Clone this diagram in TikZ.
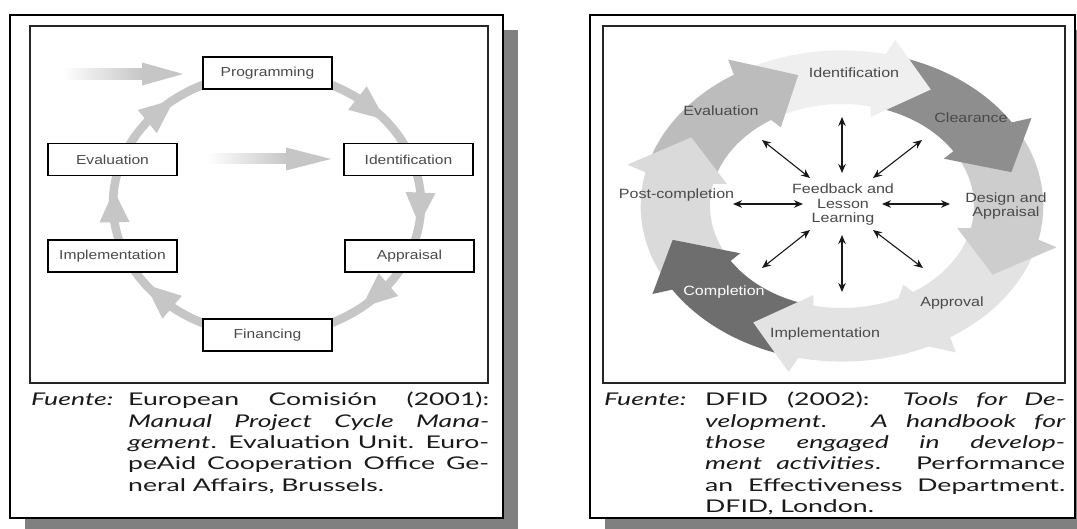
\documentclass[tikz,border=0pt]{standalone}
\usepackage{fontspec}
\usetikzlibrary{calc,arrows.meta}
\newfontfamily\labfont[FakeStretch=1.2]{Liberation Sans}
\newfontfamily\capfont[FakeStretch=1.52]{Lato}
\definecolor{shadowgray}{HTML}{808080}
\definecolor{ringgray}{HTML}{C6C6C6}
\definecolor{labelgray}{HTML}{4A4A4A}
\definecolor{capink}{HTML}{1A1A1A}
\definecolor{cIdent}{HTML}{EFEFEF}
\definecolor{cClear}{HTML}{8E8E8E}
\definecolor{cDesign}{HTML}{CDCDCD}
\definecolor{cApprov}{HTML}{E3E3E3}
\definecolor{cImpl}{HTML}{E3E3E3}
\definecolor{cCompl}{HTML}{6E6E6E}
\definecolor{cPost}{HTML}{DADADA}
\definecolor{cEval}{HTML}{BCBCBC}
\begin{document}
\begin{tikzpicture}[x=1pt,y=-1pt,
  outerframe/.style={draw=black,line width=2pt,fill=white},
  innerframe/.style={draw=black!85,line width=1.4pt},
  dropshadow/.style={fill=shadowgray},
  stagebox/.style={draw=black,line width=1.2pt,fill=white,minimum width=129pt,
    minimum height=32pt,inner sep=0pt,text=labelgray,
    font=\labfont\fontsize{13pt}{15pt}\selectfont},
  ringlink/.style={draw=ringgray,line width=8.5pt},
  ringlabel/.style={inner sep=0pt,text=labelgray,
    font=\labfont\fontsize{13.4pt}{14.5pt}\selectfont},
  twoway/.style={{Stealth[length=9pt,width=7.5pt]}-{Stealth[length=9pt,width=7.5pt]},
    line width=1.1pt,draw=black!90},
  capline/.style={anchor=base west,inner sep=0pt,text=capink,
    font=\capfont\fontsize{17.5pt}{21pt}\selectfont}
]
\useasboundingbox (0,0) rectangle (1077,529);

% ================= left panel: project cycle =================
\fill[dropshadow] (25,30) rectangle (518,533);
\draw[outerframe] (10,15) rectangle (503,518);
\draw[innerframe] (30,26) rectangle (488,383);

% points of the elliptical cycle under each stage box
\coordinate (L) at (267,204);
\foreach \n/\a in {Prog/270,Ident/340,Appr/23,Fin/90,Impl/157,Eval/200}
  \coordinate (r\n) at ($(L)+(\a:154 and 131)$);

\draw[ringlink] (rProg) arc[start angle=270,end angle=340,x radius=154,y radius=131];
\draw[ringlink] (rIdent) arc[start angle=340,end angle=383,x radius=154,y radius=131];
\draw[ringlink] (rAppr) arc[start angle=23,end angle=90,x radius=154,y radius=131];
\draw[ringlink] (rFin) arc[start angle=90,end angle=157,x radius=154,y radius=131];
\draw[ringlink] (rImpl) arc[start angle=157,end angle=200,x radius=154,y radius=131];
\draw[ringlink] (rEval) arc[start angle=200,end angle=270,x radius=154,y radius=131];

% arrow heads along the cycle (angle of the tip)
\foreach \i/\t in {1/320,2/369,3/52,4/142,5/186,6/233}{
  \pgfmathsetmacro\bb{\t-14}
  \coordinate (hT\i) at ($(L)+(\t:154 and 131)$);
  \coordinate (hB\i) at ($(L)+(\bb:154 and 131)$);
  \fill[ringgray] ($(hB\i)!15pt!90:(hT\i)$) -- (hT\i) -- ($(hB\i)!15pt!-90:(hT\i)$) -- cycle;
}

\node[stagebox] (prog)  at (267.5,73)  {Programming};
\node[stagebox] (ident) at (408.5,159.5) {Identification};
\node[stagebox] (eval)  at (112.5,159.5) {Evaluation};
\node[stagebox] (impl)  at (112.5,256) {Implementation};
\node[stagebox] (appr)  at (409.5,256) {Appraisal};
\node[stagebox] (fin)   at (267.5,335) {Financing};

% fading entry arrows
\coordinate (feedA) at (62,74);
\coordinate (feedAtip) at (183,74);
\shade[left color=white,right color=ringgray] ($(feedA)+(0,-5.5)$) rectangle ($(feedAtip)+(-40,5.5)$);
\fill[ringgray] ($(feedAtip)+(-41,-11.5)$) -- (feedAtip) -- ($(feedAtip)+(-41,11.5)$) -- cycle;
\coordinate (feedB) at (207,159);
\coordinate (feedBtip) at (331,159);
\shade[left color=white,right color=ringgray] ($(feedB)+(0,-5)$) rectangle ($(feedBtip)+(-44,5)$);
\fill[ringgray] ($(feedBtip)+(-45,-11.5)$) -- (feedBtip) -- ($(feedBtip)+(-45,11.5)$) -- cycle;

% source note
\node[capline] (lsrc) at (31,406) {\itshape Fuente:};
\node[capline] (l1) at (128,406)   {\makebox[361pt][s]{European Comisión (2001):}};
\node[capline] (l2) at (128,427.3) {\makebox[361pt][s]{\itshape Manual Project Cycle Mana-}};
\node[capline] (l3) at (128,448.6) {\makebox[361pt][s]{\itshape gement\upshape. Evaluation Unit. Euro-}};
\node[capline] (l4) at (128,469.9) {\makebox[361pt][s]{peAid Cooperation Office Ge-}};
\node[capline] (l5) at (128,491.2) {neral Affairs, Brussels.};

% ================= right panel: DFID cycle =================
\fill[dropshadow] (605,30) rectangle (1090,533);
\draw[outerframe] (590,15) rectangle (1075,518);
\draw[innerframe] (603,26) rectangle (1065,383);

\coordinate (R) at (842,206);
% ring bodies: each runs from the previous head base to its own head base
\foreach \b/\p/\col in {284/239/cIdent,329/284/cClear,374/329/cDesign,419/374/cApprov,
                        464/419/cImpl,509/464/cCompl,554/509/cPost,599/554/cEval}{
  \pgfmathsetmacro\e{\b+0.6}
  \fill[\col] ($(R)+(\p:201.3 and 155.6)$)
     arc[start angle=\p,end angle=\e,x radius=201.3,y radius=155.6]
     -- ($(R)+(\e:132 and 102)$)
     arc[start angle=\e,end angle=\p,x radius=132,y radius=102] -- cycle;
}
% arrow heads, reaching back a little into their own body
\foreach \b/\col in {284/cIdent,329/cClear,374/cDesign,419/cApprov,
                     464/cImpl,509/cCompl,554/cPost,599/cEval}{
  \pgfmathsetmacro\t{\b+16.5}
  \pgfmathsetmacro\s{\b-1.5}
  \fill[\col] ($(R)+(\s:132 and 102)$) -- ($(R)+(\b:118.8 and 91.8)$)
     -- ($(R)+(\t:174.9 and 135.2)$)
     -- ($(R)+(\b:221.1 and 170.9)$) -- ($(R)+(\s:201.3 and 155.6)$) -- cycle;
}

\node[ringlabel] (tIdent) at (854,73) {Identification};
\node[ringlabel] (tClear) at (971,118) {Clearance};
\node[ringlabel,align=center] (tDesign) at (1006,206) {Design and\\Appraisal};
\node[ringlabel] (tApprov) at (952,303) {Approval};
\node[ringlabel] (tImpl) at (825,334) {Implementation};
\node[ringlabel,text=white] (tCompl) at (724,292) {Completion};
\node[ringlabel] (tPost) at (676.5,195) {Post-completion};
\node[ringlabel] (tEval) at (721,111) {Evaluation};
\node[ringlabel,align=center] (fb) at (843,205) {Feedback and\\Lesson\\Learning};

% feedback links towards every stage
\foreach \n/\ax/\ay/\bx/\by in {up/842/173/842/117,dn/842/235/842/292,
    lf/803/204/733/204,rt/882/204/950/204,ul/810/178/762/140,ur/873/178/922/140,
    ll/810/230/762/268,lr/873/230/923/268}{
  \coordinate (\n-a) at (\ax,\ay);
  \coordinate (\n-b) at (\bx,\by);
  \draw[twoway] (\n-a) -- (\n-b);
}

% source note
\node[capline] (rsrc) at (604,406) {\itshape Fuente:};
\node[capline] (r1) at (705,406)   {\makebox[360pt][s]{DFID (2002): \itshape Tools for De-}};
\node[capline] (r2) at (705,427.3) {\makebox[360pt][s]{\itshape velopment. A handbook for}};
\node[capline] (r3) at (705,448.6) {\makebox[360pt][s]{\itshape those engaged in develop-}};
\node[capline] (r4) at (705,469.9) {\makebox[360pt][s]{\itshape ment activities\upshape. Performance}};
\node[capline] (r5) at (705,491.2) {\makebox[360pt][s]{an Effectiveness Department.}};
\node[capline] (r6) at (705,512.5) {DFID, London.};
\end{tikzpicture}
\end{document}
